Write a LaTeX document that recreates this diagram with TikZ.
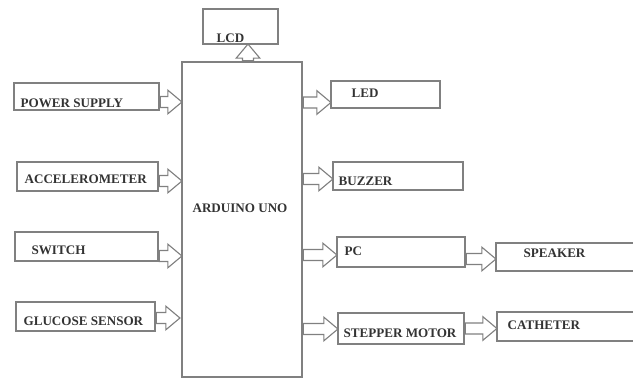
\documentclass[tikz,border=0pt]{standalone}
\usepackage{fontspec}
\setmainfont{Liberation Serif}
\usetikzlibrary{shapes.arrows, positioning, fit, calc}

\begin{document}
\begin{tikzpicture}[
    x=0.025cm, y=-0.025cm,
    box/.style={rectangle, draw=black!50, line width=0.9pt, inner sep=0pt},
    txt/.style={anchor=base west, inner sep=0pt, font=\fontsize{9.3}{10}\selectfont\bfseries, text=black!80},
    hollow/.style={to path={let \p1=($(\tikztotarget)-(\tikztostart)$), \n1={veclen(\x1,\y1)}, \n2={atan2(\y1,\x1)} in
        node[single arrow, draw=black!50, line width=0.8pt, fill=white, inner xsep=0pt, inner ysep=3.5pt,
             single arrow head extend=4.5pt, single arrow tip angle=80, minimum height=\n1, rotate=\n2, anchor=tail] at (\tikztostart) {}}},
]
\useasboundingbox (0,0) rectangle (633,379);

\node[box, fit={(203,9) (278,44)}] (lcd) {};
\node[box, fit={(182,62) (302,377)}] (ard) {};
\node[box, fit={(14,83) (159,110)}] (pwr) {};
\node[box, fit={(17,162) (158,191)}] (acc) {};
\node[box, fit={(15,232) (158,261)}] (sw) {};
\node[box, fit={(16,302) (155,331)}] (glu) {};
\node[box, fit={(331,81) (440,108)}] (led) {};
\node[box, fit={(333,162) (463,190)}] (buz) {};
\node[box, fit={(337,237) (465,267)}] (pc) {};
\node[box, fit={(496,243) (650,271)}] (spk) {};
\node[box, fit={(338,313) (464,344)}] (stp) {};
\node[box, fit={(497,312) (650,341)}] (cath) {};

\node[txt] at ($(lcd.south west)+(14,-2)$) {LCD};
\node[txt, anchor=base] at ($(ard.north)+(-2,151)$) {ARDUINO UNO};
\node[txt] at ($(pwr.south west)+(7,-3)$) {POWER SUPPLY};
\node[txt] at ($(acc.south west)+(8,-8)$) {ACCELEROMETER};
\node[txt] at ($(sw.south west)+(17,-7)$) {SWITCH};
\node[txt] at ($(glu.south west)+(8,-6)$) {GLUCOSE SENSOR};
\node[txt] at ($(led.south west)+(21,-11)$) {LED};
\node[txt] at ($(buz.south west)+(6,-5)$) {BUZZER};
\node[txt] at ($(pc.south west)+(8,-12)$) {PC};
\node[txt] at ($(spk.south west)+(28,-14)$) {SPEAKER};
\node[txt] at ($(stp.south west)+(6,-7)$) {STEPPER MOTOR};
\node[txt] at ($(cath.south west)+(11,-12)$) {CATHETER};

\draw[hollow] ($(ard.north)+(6,0)$) to ($(ard.north |- lcd.south)+(6,0)$);
\draw[hollow] ($(pwr.east)+(0,5.5)$) to ($(ard.west |- pwr.east)+(0,5.5)$);
\draw[hollow] ($(acc.east)+(0,4.5)$) to ($(ard.west |- acc.east)+(0,4.5)$);
\draw[hollow] ($(sw.east)+(0,9.5)$) to ($(ard.west |- sw.east)+(0,9.5)$);
\draw[hollow] ($(glu.east)+(0,1.5)$) to ($(ard.west |- glu.east)+(-2,1.5)$);

\draw[hollow] ($(ard.east |- led.west)+(0,8)$) to ($(led.west)+(0,8)$);
\draw[hollow] ($(ard.east |- buz.west)+(0,3)$) to ($(buz.west)+(0,3)$);
\draw[hollow] ($(ard.east |- pc.west)+(0,3)$) to ($(pc.west)+(0,3)$);
\draw[hollow] ($(ard.east |- stp.west)+(0,0.5)$) to ($(stp.west)+(0,0.5)$);
\draw[hollow] ($(pc.east)+(0,7)$) to ($(spk.west |- pc.east)+(0,7)$);
\draw[hollow] ($(stp.east)+(0,0)$) to ($(cath.west |- stp.east)+(0,0)$);

\end{tikzpicture}
\end{document}
